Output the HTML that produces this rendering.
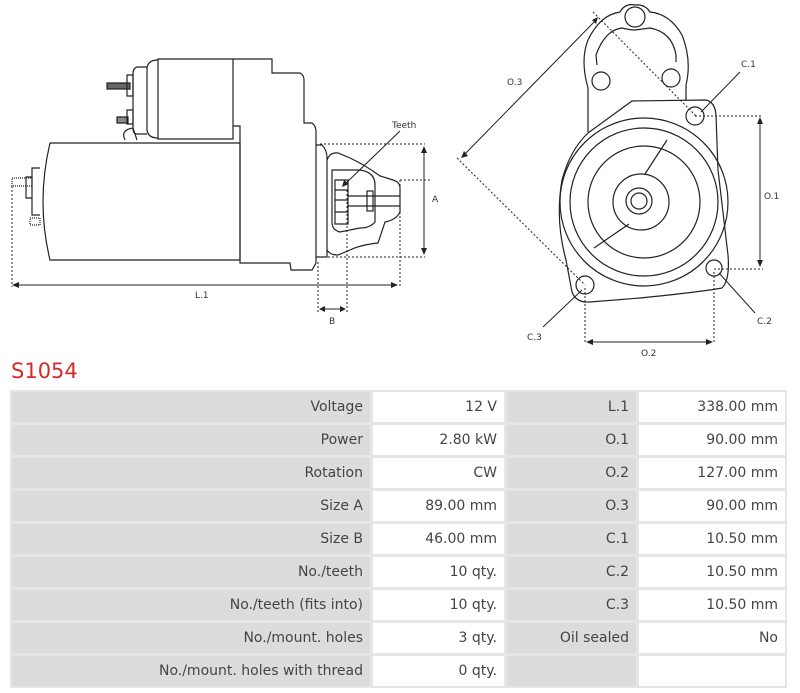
<!DOCTYPE html>
<html><head><meta charset="utf-8"><style>
body{margin:0;width:800px;height:693px;background:#fff;position:relative;overflow:hidden;font-family:"DejaVu Sans","Liberation Sans",sans-serif}
svg{position:absolute;left:0;top:0}
.t{position:absolute;left:11px;top:359px;font-size:21px;color:#d42a2a}
.g{position:absolute;left:10px;top:390px;width:773px;height:294px;background:#e6e6e6;padding:2px;display:grid;grid-template-columns:358px 131px 129px 146px;grid-template-rows:repeat(9,30px);gap:3px}
.g div{font-size:14px;color:#444;text-align:right;padding-right:7px;line-height:30px;background:#fff;white-space:nowrap}
.g div.k{background:#dcdcdc}
</style></head><body>
<svg width="800" height="360" viewBox="0 0 800 360" fill="none" stroke="#222" stroke-width="1.2">
<!-- left drawing -->
<path d="M50,143 L240,143 L240,260 L50,260 Q36,202 50,143Z"/>
<path d="M158,59 L233,59 L233,139 L158,139Z"/>
<path d="M158,60 Q148,60 147,68 L147,130 Q148,138 158,138"/>
<path d="M147,67 L137,67 Q133,68 133,74 L133,128 Q133,134 137,134 L147,134"/>
<path d="M233,59 L272,59 L272,73 L300,73 Q304,75 304,80 L304,123 L312,123 Q316,126 316,132 L316,263 L312,270 L291,270 L290,263 L240,263 L240,126 L233,126"/>
<path d="M316,145 L322,145 Q327,150 327,158 L327,257 L316,257"/>
<path d="M327,160 Q330,152 338,153 L350,158 Q365,165 380,176 L393,180 Q400,182 400,188 L400,212 Q396,220 385,222 L378,243 Q360,245 350,250 L338,255 Q330,255 327,250"/>
<path d="M332,170 L360,170 Q375,172 375,185 L375,222 Q370,228 360,228 L340,232 Q332,230 332,222Z"/>
<path d="M335,180 L348,180 L348,224 L335,224Z M335,190 L348,190 M335,200 L348,200 M335,212 L348,212"/>
<path d="M348,196 L400,196 M348,206 L400,206"/>
<rect x="367" y="191" width="6" height="20"/>
<path d="M130,83 L107,83 L107,89 L130,89Z" fill="#666"/>
<path d="M128,117 L117,117 L117,123 L128,123Z" fill="#888"/>
<path d="M127,75 L133,75 L133,96 L127,96Z M127,110 L133,110 L133,124 L127,124Z"/>
<path d="M40,168 L32,168 L32,215 L40,215"/>
<path d="M32,177 L26,177 L26,198 L32,198"/>
<path d="M12,178 L32,178 L32,186 L12,186Z" stroke-dasharray="1 1"/>
<path d="M30,218 L40,218 L40,225 L30,225Z" stroke-dasharray="1 1"/>
<path d="M125,140 Q120,130 133,128 L137,140"/>
<g stroke-width="1" stroke-dasharray="2 2">
<path d="M320,144 L425,144 M320,257 L425,257 M400,180 L430,180 M12,186 L12,287 M400,180 L400,287 M318,262 L318,312 M347,190 L347,312"/>
</g>
<g stroke-width="1">
<path d="M424,148 L424,253 M14,285 L396,285 M321,309 L344,309 M400,131 L343,186"/>
</g>
<g fill="#222" stroke="none">
<path d="M424,146 l-3,7 h6z M424,255 l-3,-7 h6z M12,285 l7,-3 v6z M398,285 l-7,-3 v6z M319,309 l6,-3 v6z M346,309 l-6,-3 v6z M342,187 l2,-7 l5,4z"/>
</g>
<!-- right drawing -->
<path d="M588,132 L588,88 Q580,60 588,40 Q600,15 620,12 Q625,3 635,5 Q645,4 650,12 Q670,14 682,35 Q692,60 686,85 L686,100"/>
<path d="M597,65 L596,55 Q605,30 622,28 Q630,30 635,30 L650,28 Q672,32 676,55 L676,62"/>
<circle cx="635" cy="17" r="10"/><circle cx="601" cy="81" r="9"/><circle cx="671" cy="78" r="9"/>
<path d="M588,133 L632,101 L706,100 Q715,102 716,115 L718,170 L728,255 Q730,280 722,288 Q700,292 640,298 L590,302 Q576,303 572,292 L566,260 Q555,220 562,180 Q570,150 588,133"/>
<circle cx="644" cy="202" r="84"/><circle cx="644" cy="202" r="74"/><circle cx="644" cy="202" r="56"/><circle cx="641" cy="202" r="28"/><circle cx="639" cy="201" r="13"/><circle cx="639" cy="201" r="8"/>
<path d="M667,140 L645,174 M629,224 L594,248"/>
<circle cx="695" cy="116" r="9"/><circle cx="714" cy="268" r="8"/><circle cx="585" cy="285" r="9"/>
<g stroke-width="1" stroke-dasharray="2 2">
<path d="M695,116 L763,116 M714,269 L763,269 M585,288 L585,344 M714,272 L714,344 M593,12 L697,117 M457,158 L585,285"/>
</g>
<g stroke-width="1">
<path d="M760,120 L760,264 M589,342 L710,342 M597,19 L463,156 M740,72 L701,112 M755,313 L719,273 M543,327 L582,290"/>
</g>
<g fill="#222" stroke="none">
<path d="M760,117 l-3,7 h6z M760,267 l-3,-7 h6z M586,342 l7,-3 v6z M713,342 l-7,-3 v6z M598,17 l-2,7 l-4,-4z M461,158 l7,-2 l-4,-5z"/>
</g>
<g fill="#333" stroke="none" font-family="DejaVu Sans, sans-serif" font-size="9">
<text x="392" y="128">Teeth</text><text x="432" y="202">A</text><text x="195" y="298">L.1</text><text x="329" y="324">B</text>
<text x="507" y="85">O.3</text><text x="741" y="67">C.1</text><text x="764" y="199">O.1</text><text x="757" y="324">C.2</text><text x="527" y="340">C.3</text><text x="641" y="356">O.2</text>
</g>
</svg>
<div class="t">S1054</div>
<div class="g">
<div class="k">Voltage</div><div>12 V</div><div class="k">L.1</div><div>338.00 mm</div>
<div class="k">Power</div><div>2.80 kW</div><div class="k">O.1</div><div>90.00 mm</div>
<div class="k">Rotation</div><div>CW</div><div class="k">O.2</div><div>127.00 mm</div>
<div class="k">Size A</div><div>89.00 mm</div><div class="k">O.3</div><div>90.00 mm</div>
<div class="k">Size B</div><div>46.00 mm</div><div class="k">C.1</div><div>10.50 mm</div>
<div class="k">No./teeth</div><div>10 qty.</div><div class="k">C.2</div><div>10.50 mm</div>
<div class="k">No./teeth (fits into)</div><div>10 qty.</div><div class="k">C.3</div><div>10.50 mm</div>
<div class="k">No./mount. holes</div><div>3 qty.</div><div class="k">Oil sealed</div><div>No</div>
<div class="k">No./mount. holes with thread</div><div>0 qty.</div><div class="k"></div><div></div>
</div>
</body></html>
